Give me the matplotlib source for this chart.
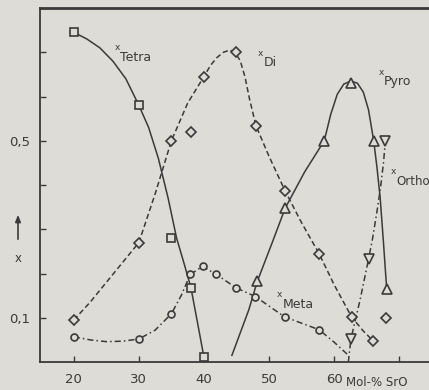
import matplotlib
matplotlib.use("Agg")
import matplotlib.pyplot as plt

# marker values (Mol-% SrO, mole fraction x)
tetra_x = [20, 30, 35, 38, 40]
tetra_y = [0.745, 0.58, 0.28, 0.168, 0.011]
di_x = [20, 30, 35, 38, 40, 45, 48, 52.5, 57.7, 62.7, 66, 68]
di_y = [0.095, 0.27, 0.50, 0.52, 0.645, 0.70, 0.534, 0.386, 0.245, 0.102, 0.048, 0.10]
meta_x = [20, 30, 35, 37.9, 39.8, 41.9, 44.9, 47.9, 52.4, 57.7]
meta_y = [0.057, 0.052, 0.109, 0.198, 0.216, 0.198, 0.168, 0.148, 0.102, 0.073]
pyro_x = [48.2, 52.5, 58.5, 62.6, 66.1, 68.1]
pyro_y = [0.182, 0.348, 0.50, 0.63, 0.50, 0.164]
ortho_x = [62.6, 65.3, 67.9]
ortho_y = [0.052, 0.232, 0.50]

# hand-drawn curves
tetra_cx = [20, 22, 24, 26, 28, 30, 31.5, 33, 34.5, 35.8, 37, 38, 39, 40]
tetra_cy = [0.745, 0.73, 0.71, 0.68, 0.64, 0.58, 0.53, 0.46, 0.37, 0.28, 0.22,
            0.168, 0.09, 0.011]
di_cx = [20, 22.5, 25, 27.5, 30, 32.5, 35, 37.5, 40, 41, 42, 43, 44, 44.8, 45.6,
         46.3, 47, 48, 50, 52.5, 55, 57.7, 60, 62.7, 64.5, 66]
di_cy = [0.095, 0.135, 0.18, 0.225, 0.27, 0.38, 0.50, 0.585, 0.645, 0.67, 0.688,
         0.70, 0.705, 0.70, 0.68, 0.645, 0.595, 0.534, 0.465, 0.386, 0.315, 0.245,
         0.175, 0.102, 0.07, 0.048]
meta_cx = [20, 22.5, 25, 27.5, 30, 32.5, 35, 36.5, 37.9, 39.8, 41.9, 44.9, 47.9,
           52.4, 57.7, 60, 62]
meta_cy = [0.057, 0.05, 0.046, 0.047, 0.052, 0.072, 0.109, 0.15, 0.198, 0.216,
           0.198, 0.168, 0.148, 0.102, 0.073, 0.045, 0.018]
pyro_cx = [44.3, 46.9, 48.2, 50.5, 52.5, 55.5, 58.5, 59.5, 60.5, 61.5, 62.6, 63.6,
           64.5, 65.3, 66.1, 66.6, 67.1, 67.6, 68.1]
pyro_cy = [0.015, 0.118, 0.182, 0.27, 0.348, 0.43, 0.50, 0.56, 0.605, 0.628, 0.635,
           0.63, 0.61, 0.57, 0.50, 0.44, 0.37, 0.27, 0.164]
ortho_cx = [62.2, 62.6, 64, 65.3, 65.9, 66.6, 67.2, 67.6, 67.9]
ortho_cy = [0.0, 0.052, 0.14, 0.232, 0.277, 0.34, 0.40, 0.45, 0.50]

xticks = [20, 30, 40, 50, 60, 70]
xtick_labels = ["20", "30", "40", "50", "60", ""]
yticks = [0.1, 0.2, 0.3, 0.4, 0.5, 0.6, 0.7]
ytick_labels = ["0,1", "", "", "", "0,5", "", ""]

bg = "#dddcd6"
ink = "#3a3a3a"
plt.rcParams["font.family"] = ["DejaVu Sans"]

fig = plt.figure(figsize=(4.29, 3.90), dpi=100, facecolor=bg)
ax = fig.add_axes([40 / 429, 1 - 362 / 390, 1 - 40 / 429, (362 - 8) / 390])
ax.set_facecolor(bg)
ax.set_xlim(14.8, 74.6)
ax.set_ylim(0, 0.8)

lw = 1.1
ax.plot(tetra_cx, tetra_cy, "-", color=ink, lw=lw)
ax.plot(di_cx, di_cy, color=ink, lw=lw, ls=(0, (3.5, 2)))
ax.plot(meta_cx, meta_cy, color=ink, lw=lw, ls=(0, (4, 2, 1, 2)))
ax.plot(pyro_cx, pyro_cy, "-", color=ink, lw=lw)
ax.plot(ortho_cx, ortho_cy, color=ink, lw=lw, ls=(0, (4, 2, 1, 2)))

mk = dict(ls="none", mfc=bg, mec=ink, mew=1.2, color=ink)
ax.plot(tetra_x, tetra_y, marker="s", ms=6, **mk)
ax.plot(di_x, di_y, marker="D", ms=5.5, **mk)
ax.plot(meta_x, meta_y, marker="o", ms=5, **mk)
ax.plot(pyro_x, pyro_y, marker="^", ms=7, **mk)
ax.plot(ortho_x, ortho_y, marker="v", ms=7, **mk)

# curve labels: small raised x followed by the name
labels = [("Tetra", 26.3, 0.71, 9), ("Di", 48.3, 0.698, 9), ("Pyro", 66.8, 0.655, 9),
          ("Ortho", 68.7, 0.43, 8.5), ("Meta", 51.2, 0.152, 9)]
for name, lx, ly, fs in labels:
    ax.text(lx, ly, "x", fontsize=6.5, color=ink, ha="left", va="center")
    ax.annotate(name, (lx, ly), xytext=(4, -7), textcoords="offset points",
                fontsize=fs, color=ink, ha="left", va="center")

ax.set_xticks(xticks)
ax.set_xticklabels(xtick_labels)
ax.set_yticks(yticks)
ax.set_yticklabels(ytick_labels)
ax.tick_params(direction="in", length=4, width=1, colors=ink, labelsize=9.5,
               pad=7)
ax.tick_params(axis="x", pad=8)
ax.text(61.9, -0.046, "Mol-% SrO", fontsize=8.5, color=ink, ha="left", va="center")

for s in ["left", "bottom", "top"]:
    ax.spines[s].set_color(ink)
ax.spines["left"].set_linewidth(1.3)
ax.spines["bottom"].set_linewidth(1.3)
ax.spines["top"].set_linewidth(2)
ax.spines["right"].set_visible(False)

# y axis "x" with upward arrow
fig.patches.append(matplotlib.patches.FancyArrowPatch(
    (18 / 429, 1 - 242 / 390), (18 / 429, 1 - 212 / 390), transform=fig.transFigure,
    arrowstyle="-|>,head_length=4,head_width=1.6", color=ink, lw=1.2))
fig.text(18 / 429, 1 - 258 / 390, "x", fontsize=8.5, color=ink, ha="center",
         va="center")

fig.savefig("out.png", dpi=100, facecolor=bg)
